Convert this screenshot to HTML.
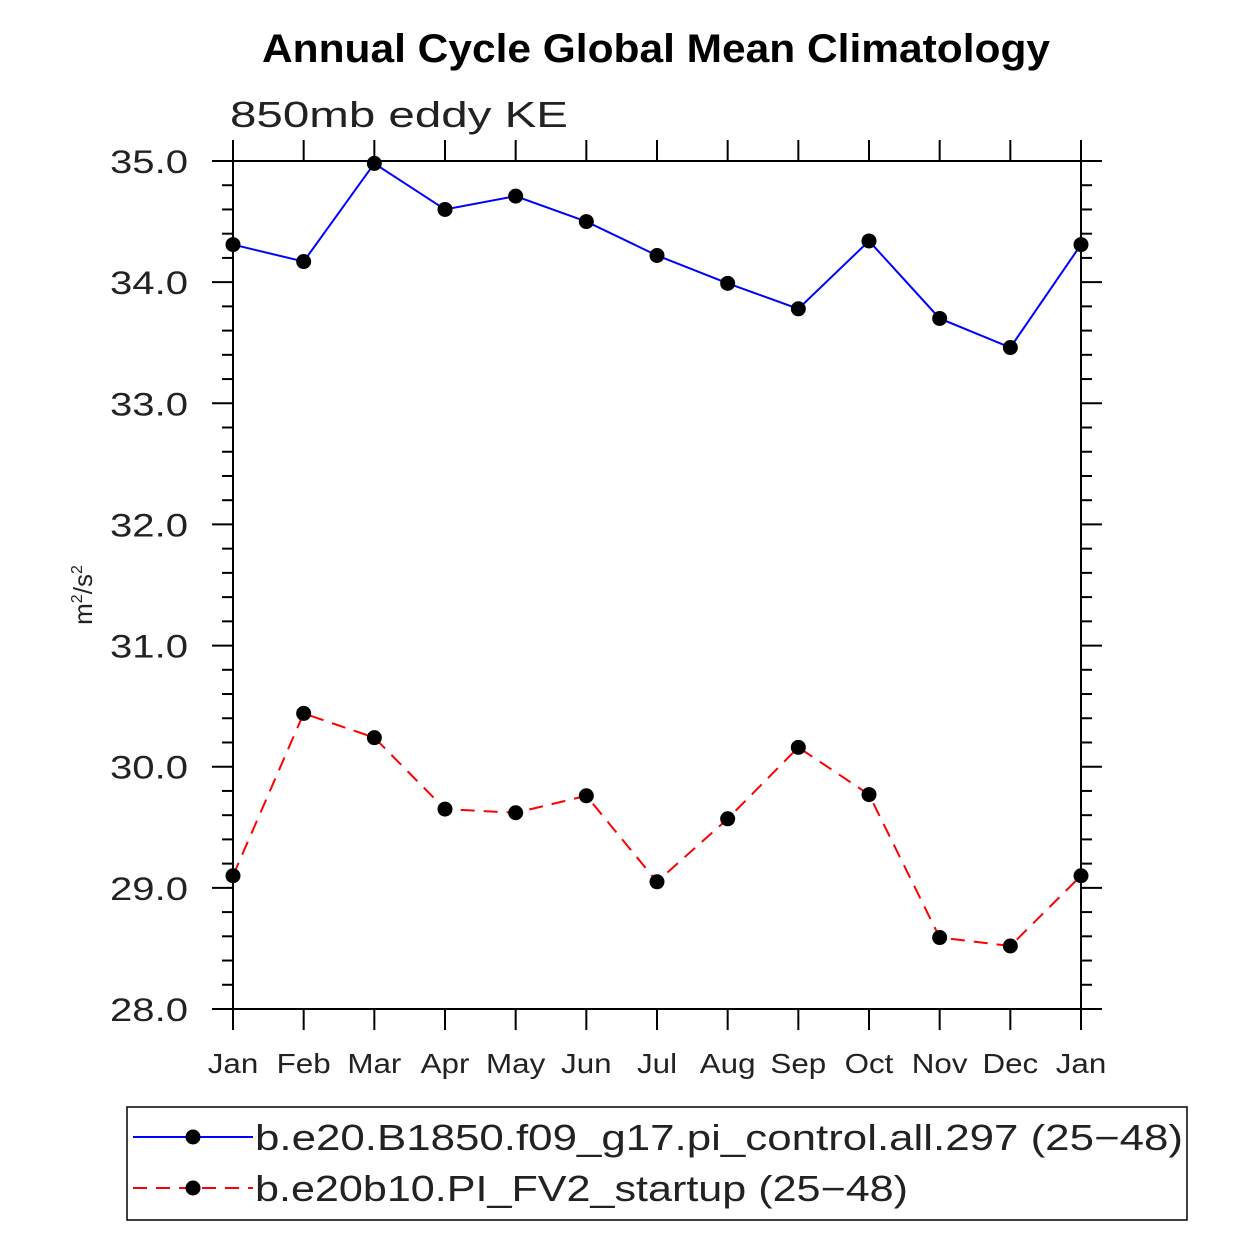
<!DOCTYPE html>
<html><head><meta charset="utf-8"><style>
body{margin:0;background:#fff}
svg text{font-family:"Liberation Sans",sans-serif}
</style></head><body>
<svg id="chart" width="1250" height="1250" xmlns="http://www.w3.org/2000/svg">
<text x="262" y="62" font-size="40" font-weight="bold" textLength="788" lengthAdjust="spacingAndGlyphs">Annual Cycle Global Mean Climatology</text>
<text x="230" y="127" font-size="36" fill="#222" textLength="338" lengthAdjust="spacingAndGlyphs">850mb eddy KE</text>
<text transform="translate(92,595) rotate(-90)" text-anchor="middle" font-size="26" fill="#222">m<tspan font-size="16" dy="-10">2</tspan><tspan dy="10">/s</tspan><tspan font-size="16" dy="-10">2</tspan></text>
<g id="axes"></g>
<g id="series"></g>
<rect x="127" y="1107" width="1060" height="113" fill="none" stroke="#000" stroke-width="1.5"/>
<g>
<line x1="133" y1="1137" x2="253" y2="1137" stroke="#0000ff" stroke-width="2"/>
<circle cx="193" cy="1137" r="7.5"/>
<text x="255" y="1150" font-size="36" fill="#222" textLength="928" lengthAdjust="spacingAndGlyphs">b.e20.B1850.f09_g17.pi_control.all.297 (25−48)</text>
</g>
<g>
<line x1="133" y1="1188" x2="253" y2="1188" stroke="#ff0000" stroke-width="2" stroke-dasharray="14,9"/>
<circle cx="193" cy="1188" r="7.5"/>
<text x="255" y="1201" font-size="36" fill="#222" textLength="653" lengthAdjust="spacingAndGlyphs">b.e20b10.PI_FV2_startup (25−48)</text>
</g>
</svg>
<script>
const months=["Jan","Feb","Mar","Apr","May","Jun","Jul","Aug","Sep","Oct","Nov","Dec","Jan"];
const controlValues=[34.31,34.17,34.98,34.60,34.71,34.50,34.22,33.99,33.78,34.34,33.70,33.46,34.31];
const fv2Values=[29.10,30.44,30.24,29.65,29.62,29.76,29.05,29.57,30.16,29.77,28.59,28.52,29.10];
const yTicks=[28,29,30,31,32,33,34,35];
const yTickLabels=["28.0","29.0","30.0","31.0","32.0","33.0","34.0","35.0"];
const X0=233,X1=1081,Y0=1009,Y1=161,YMIN=28,YMAX=35;
const xs=i=>X0+(X1-X0)*i/(months.length-1);
const ys=v=>Y0-(v-YMIN)/(YMAX-YMIN)*(Y0-Y1);
const NS="http://www.w3.org/2000/svg";
function mk(tag,attrs,parent){const e=document.createElementNS(NS,tag);for(const k in attrs)e.setAttribute(k,attrs[k]);parent.appendChild(e);return e;}
const ax=document.getElementById('axes');
const frame=mk('rect',{x:X0,y:Y1,width:X1-X0,height:Y0-Y1,fill:'none',stroke:'#000','stroke-width':2},ax);


months.forEach((m,i)=>{
  const x=xs(i);
  const t1=mk('line',{x1:x,y1:Y0,x2:x,y2:Y0+21,stroke:'#000','stroke-width':2},ax);
  
  
  const t2=mk('line',{x1:x,y1:Y1,x2:x,y2:Y1-21,stroke:'#000','stroke-width':2},ax);
  
  
  const tl=mk('text',{x:x,y:Y0+64,'text-anchor':'middle','font-size':28,fill:'#222',transform:'translate('+x+',0) scale(1.12,1) translate('+(-x)+',0)'},ax);
  tl.textContent=m;
  
  
});
yTicks.forEach((v,i)=>{
  const y=ys(v);
  const a=mk('line',{x1:X0-21,y1:y,x2:X0,y2:y,stroke:'#000','stroke-width':2},ax);
  
  
  const b=mk('line',{x1:X1,y1:y,x2:X1+21,y2:y,stroke:'#000','stroke-width':2},ax);
  
  
  const l=mk('text',{x:110,y:y+12,'font-size':32,fill:'#222',textLength:78,lengthAdjust:'spacingAndGlyphs'},ax);
  l.textContent=yTickLabels[i];
  
  
  if(i<yTicks.length-1){
    for(let k=1;k<5;k++){
      const yy=ys(v+k*0.2);
      const m1=mk('line',{x1:X0-11,y1:yy,x2:X0,y2:yy,stroke:'#000','stroke-width':2},ax);
      
      
      const m2=mk('line',{x1:X1,y1:yy,x2:X1+11,y2:yy,stroke:'#000','stroke-width':2},ax);
      
      
    }
  }
});
const sg=document.getElementById('series');
function drawSeries(vals,color,dash,name){
  const pts=vals.map((v,i)=>xs(i)+','+ys(v)).join(' ');
  const pl=mk('polyline',{points:pts,fill:'none',stroke:color,'stroke-width':2,'stroke-dasharray':dash},sg);
  
  
  vals.forEach((v,i)=>{
    const c=mk('circle',{cx:xs(i),cy:ys(v),r:7.5,fill:'#000'},sg);
    
    
  });
}
drawSeries(controlValues,'#0000ff','none','control');
drawSeries(fv2Values,'#ff0000','14,9','fv2');
</script>
</body></html>
